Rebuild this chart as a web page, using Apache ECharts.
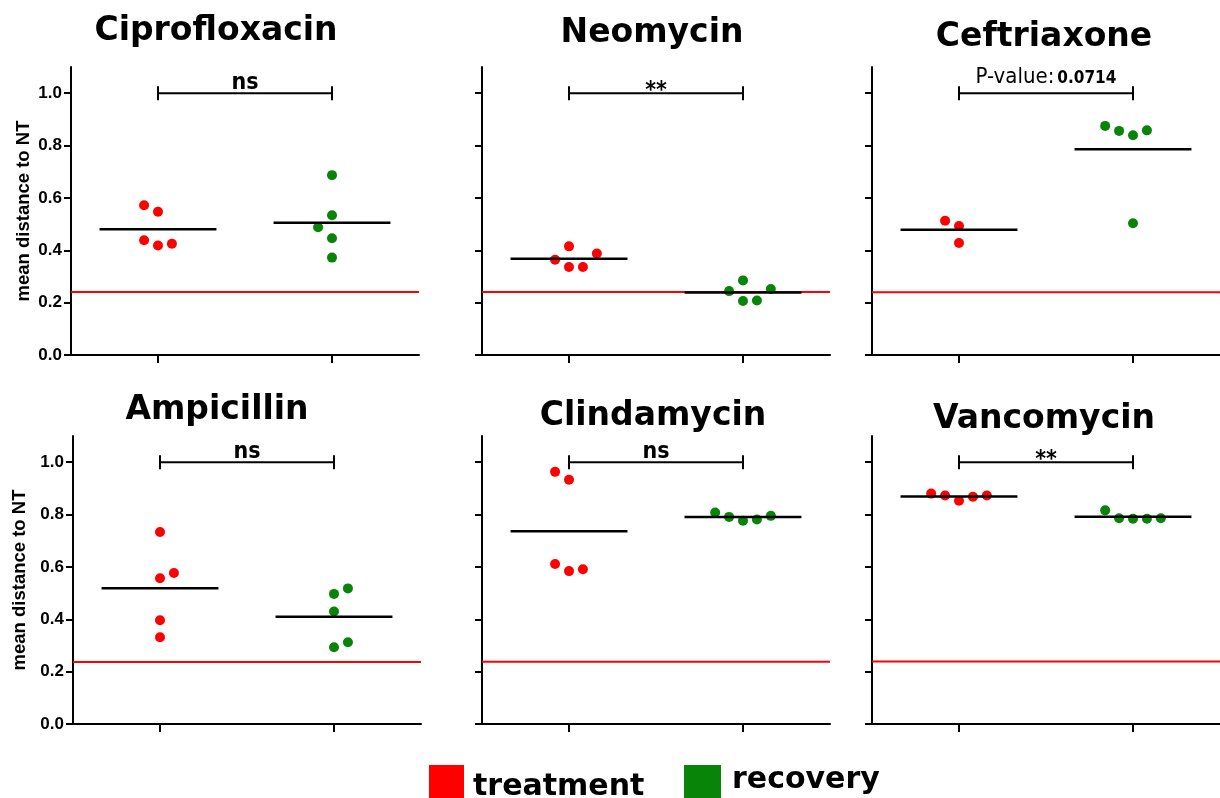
<!DOCTYPE html>
<html>
<head>
<meta charset="utf-8">
<title>mean distance to NT</title>
<script src="https://cdn.jsdelivr.net/npm/echarts@6/dist/echarts.min.js"></script>
<style>
  html, body { margin: 0; padding: 0; background: #fff; }
  #chart { width: 1220px; height: 798px; }
</style>
</head>
<body>
<div id="chart"></div>
<script>
// data
const antibiotics = ['Ciprofloxacin', 'Neomycin', 'Ceftriaxone', 'Ampicillin', 'Clindamycin', 'Vancomycin']
const groups = ['treatment', 'recovery']

const treatmentValues = [
  [0.572, 0.547, 0.438, 0.418, 0.425],
  [0.415, 0.364, 0.388, 0.336, 0.336],
  [0.513, 0.493, 0.428],
  [0.733, 0.557, 0.577, 0.396, 0.331],
  [0.963, 0.933, 0.611, 0.584, 0.591],
  [0.880, 0.873, 0.853, 0.868, 0.873],
]
// horizontal scatter step of each dot (prism style spread)
const treatmentJitter = [
  [-1, 0, -1, 0, 1],
  [0, -1, 2, 0, 1],
  [-1, 0, 0],
  [0, 0, 1, 0, 0],
  [-1, 0, -1, 0, 1],
  [-2, -1, 0, 1, 2],
]
const recoveryValues = [
  [0.687, 0.534, 0.488, 0.446, 0.372],
  [0.285, 0.244, 0.252, 0.206, 0.208],
  [0.875, 0.856, 0.839, 0.858, 0.503],
  [0.497, 0.518, 0.430, 0.293, 0.312],
  [0.808, 0.791, 0.776, 0.781, 0.795],
  [0.816, 0.786, 0.784, 0.784, 0.786],
]
const recoveryJitter = [
  [0, 0, -1, 0, 0],
  [0, -1, 2, 0, 1],
  [-2, -1, 0, 1, 0],
  [0, 1, 0, 0, 1],
  [-2, -1, 0, 1, 2],
  [-2, -1, 0, 1, 2],
]
const thresholdValues = [0.241, 0.241, 0.240, 0.237, 0.238, 0.239]
const significance = ['ns', '**', '0.0714', 'ns', 'ns', '**']
const bracketValue = 1.0
const yTicks = [0, 0.2, 0.4, 0.6, 0.8, 1.0]

const RED = '#ff0000'
const GREEN = '#088508'
const JITTER_STEP = 0.08
const MEAN_HALF = 0.336
const COND = '"DejaVu Sans Condensed", "DejaVu Sans", sans-serif'
const ARIAL = '"Liberation Sans", Arial, sans-serif'

// panel layout (pixels)
const panels = [
  { left: 71, top: 67, titleX: 216, titleY: 15, yLabels: true, nameGap: 38 },
  { left: 482, top: 67, titleX: 652, titleY: 17, yLabels: false },
  { left: 872, top: 67, titleX: 1044, titleY: 21, yLabels: false },
  { left: 73, top: 436, titleX: 217, titleY: 394, yLabels: true, nameGap: 44 },
  { left: 482, top: 436, titleX: 653, titleY: 400, yLabels: false },
  { left: 872, top: 436, titleX: 1044, titleY: 403, yLabels: false },
]

const mean = arr => arr.reduce((s, v) => s + v, 0) / arr.length

function bracketRenderer(label) {
  return (params, api) => {
    const a = api.coord([api.value(0), api.value(2)])
    const b = api.coord([api.value(1), api.value(2)])
    const h = 7
    const ls = { stroke: '#000', lineWidth: 2 }
    let text
    if (label === 'ns') {
      text = { type: 'text', x: (a[0] + b[0]) / 2, y: a[1] + 1,
        style: { text: 'ns', font: `bold 23px ${COND}`, fill: '#000', align: 'center', verticalAlign: 'bottom' } }
    } else if (label === '**') {
      text = { type: 'text', x: (a[0] + b[0]) / 2, y: a[1] + 9,
        style: { text: '**', font: `bold 23px ${COND}`, fill: '#000', align: 'center', verticalAlign: 'bottom' } }
    } else {
      text = { type: 'text', x: (a[0] + b[0]) / 2, y: a[1] - 5,
        style: {
          text: '{a|P-value:}{b|' + label + '}', align: 'center', verticalAlign: 'bottom',
          rich: {
            a: { fontFamily: COND, fontSize: 22, fill: '#000', color: '#000', verticalAlign: 'bottom' },
            b: { fontFamily: COND, fontSize: 17, fontWeight: 'bold', fill: '#000', color: '#000', verticalAlign: 'bottom', padding: [0, 0, 1, 3] },
          },
        } }
    }
    return {
      type: 'group',
      children: [
        { type: 'line', shape: { x1: a[0], y1: a[1], x2: b[0], y2: b[1] }, style: ls },
        { type: 'line', shape: { x1: a[0], y1: a[1] - h, x2: a[0], y2: a[1] + h }, style: ls },
        { type: 'line', shape: { x1: b[0], y1: b[1] - h, x2: b[0], y2: b[1] + h }, style: ls },
        text,
      ],
    }
  }
}

const grid = [], xAxis = [], yAxis = [], series = [], title = []

panels.forEach((p, k) => {
  grid.push({ left: p.left, top: p.top, width: 348, height: 288, containLabel: false, outerBoundsMode: 'none' })
  title.push({
    text: antibiotics[k], left: p.titleX, top: p.titleY, textAlign: 'center', padding: 0,
    textStyle: { fontFamily: '"DejaVu Sans", sans-serif', fontWeight: 'bold', fontSize: 33, color: '#000' },
  })
  xAxis.push({
    gridIndex: k, type: 'value', min: -0.5, max: 1.5,
    axisLine: { show: true, onZero: false, lineStyle: { color: '#000', width: 2 } },
    axisTick: { show: true, length: 8, customValues: [0, 1], lineStyle: { color: '#000', width: 2 } },
    axisLabel: { show: false },
    splitLine: { show: false },
  })
  yAxis.push({
    gridIndex: k, type: 'value', min: 0, max: 1.1,
    axisLine: { show: true, onZero: false, lineStyle: { color: '#000', width: 2 } },
    axisTick: { show: true, length: 7, customValues: yTicks, lineStyle: { color: '#000', width: 2 } },
    axisLabel: {
      show: p.yLabels, customValues: yTicks, margin: 9, formatter: v => v.toFixed(1),
      color: '#000', fontFamily: ARIAL, fontWeight: 'bold', fontSize: 17,
    },
    splitLine: { show: false },
    name: p.yLabels ? 'mean distance to NT' : '',
    nameLocation: 'middle', nameGap: p.nameGap || 40, nameRotate: 90,
    nameTextStyle: { color: '#000', fontFamily: ARIAL, fontWeight: 'bold', fontSize: 18.5 },
  })

  // reference line
  series.push({
    type: 'custom', xAxisIndex: k, yAxisIndex: k, z: 1, silent: true,
    data: [[0, thresholdValues[k]]],
    renderItem: (params, api) => {
      const y = api.coord([0, api.value(1)])[1]
      const cs = params.coordSys
      return { type: 'line', shape: { x1: cs.x, y1: y, x2: cs.x + cs.width, y2: y }, style: { stroke: RED, lineWidth: 2 } }
    },
  })

  const sets = [
    [treatmentValues[k], treatmentJitter[k], RED],
    [recoveryValues[k], recoveryJitter[k], GREEN],
  ]
  sets.forEach(([vals, jit, color], g) => {
    series.push({
      name: groups[g], type: 'scatter', xAxisIndex: k, yAxisIndex: k, z: 2,
      symbol: 'circle', symbolSize: 10,
      itemStyle: { color, opacity: 1 },
      data: vals.map((v, i) => [g + jit[i] * JITTER_STEP, v]),
    })
  })

  // group means
  series.push({
    type: 'custom', xAxisIndex: k, yAxisIndex: k, z: 3, silent: true,
    data: [[0, mean(treatmentValues[k])], [1, mean(recoveryValues[k])]],
    renderItem: (params, api) => {
      const c = api.coord([api.value(0), api.value(1)])
      const half = api.size([MEAN_HALF, 0])[0]
      return { type: 'line', shape: { x1: c[0] - half, y1: c[1], x2: c[0] + half, y2: c[1] }, style: { stroke: '#000', lineWidth: 2.5 } }
    },
  })

  // significance bracket
  series.push({
    type: 'custom', xAxisIndex: k, yAxisIndex: k, z: 3, silent: true,
    encode: { x: [0, 1], y: 2 },
    data: [[0, 1, bracketValue]],
    renderItem: bracketRenderer(significance[k]),
  })
})

const legendFont = { fontFamily: '"DejaVu Sans", sans-serif', fontWeight: 'bold', fontSize: 30, color: '#000' }

const chart = echarts.init(document.getElementById('chart'), null, { renderer: 'canvas' })
chart.setOption({
  animation: false,
  backgroundColor: '#fff',
  title,
  grid,
  xAxis,
  yAxis,
  legend: [
    { data: ['treatment'], left: 429, top: 765, padding: 0, icon: 'rect', itemWidth: 35, itemHeight: 33,
      selectedMode: false, formatter: n => '{t|' + n + '}',
      textStyle: { rich: { t: Object.assign({ padding: [12, 0, 0, 4] }, legendFont) } } },
    { data: ['recovery'], left: 684, top: 765, padding: 0, icon: 'rect', itemWidth: 37, itemHeight: 33,
      selectedMode: false, formatter: n => '{t|' + n + '}',
      textStyle: { rich: { t: Object.assign({ padding: [0, 0, 2, 6] }, legendFont) } } },
  ],
  series,
})
</script>
</body>
</html>
